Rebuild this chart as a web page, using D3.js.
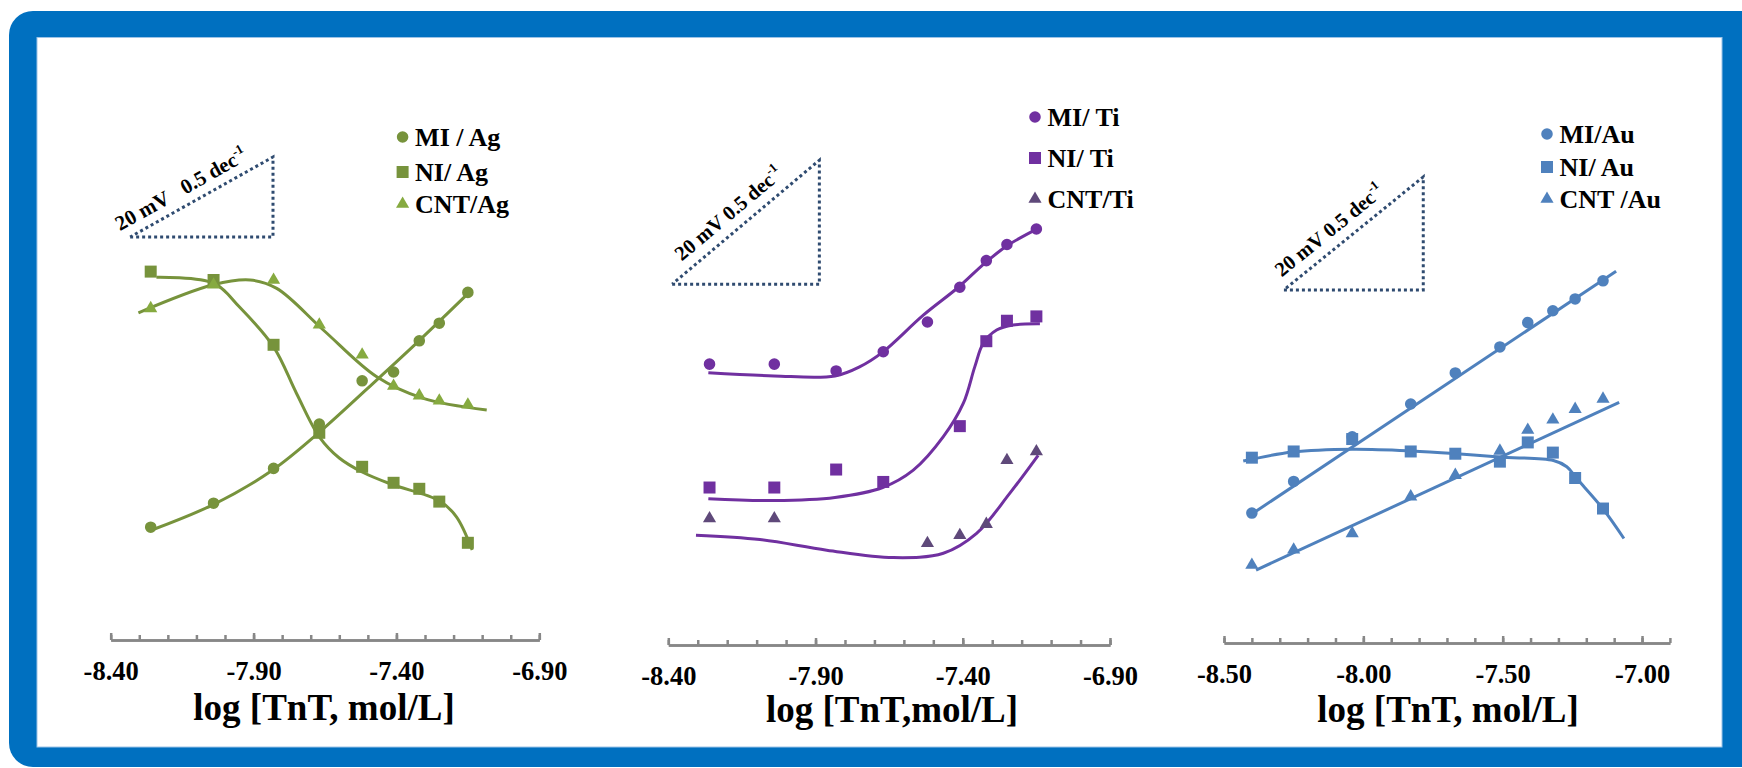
<!DOCTYPE html>
<html>
<head>
<meta charset="utf-8">
<script src="https://cdn.jsdelivr.net/npm/d3@7"></script>
<style>
  body { margin: 0; background: #ffffff; }
  svg { display: block; }
  text { font-family: "Liberation Serif", "Times New Roman", serif; font-weight: bold; fill: #000000; }
</style>
</head>
<body>
<svg id="chart"></svg>
<script>
/*--------------------------------------------------------------------------------
----- DATA (x = log [TnT, mol/L], y = potential in mV above the axis line)
--------------------------------------------------------------------------------*/

// Panel 1 : Ag electrodes
const ag_log_conc = [-8.26, -8.04, -7.83, -7.67, -7.52, -7.41, -7.32, -7.25, -7.15];
const ag_mi_mv = [28.2, 34.2, 42.9, 54.0, 64.8, 67.0, 74.8, 79.2, 86.9];
const ag_ni_mv = [92.1, 90.0, 73.8, 51.8, 43.3, 39.3, 37.8, 34.6, 24.3];
const ag_cnt_mv = [82.9, 88.8, 90.0, 78.8, 71.3, 63.5, 61.1, 59.8, 58.8];
// Fitted curves as drawn in the picture, [log, mV]
const ag_mi_fit = [[-8.256, 27.5], [-8.043, 33.8], [-7.833, 42.5], [-7.672, 51.8], [-7.457, 65.8], [-7.324, 74.6], [-7.148, 86.7]];
const ag_ni_fit = [[-8.24, 90.7], [-8.04, 89.2], [-7.95, 83.3], [-7.83, 73.3], [-7.75, 61.7], [-7.67, 50.8], [-7.60, 45.5], [-7.52, 42.0], [-7.42, 39.0], [-7.25, 34.8], [-7.19, 30.8], [-7.135, 22.5]];
const ag_cnt_fit = [[-8.303, 81.8], [-8.041, 88.8], [-7.912, 90.0], [-7.819, 87.9], [-7.656, 77.5], [-7.469, 65.8], [-7.306, 60.4], [-7.084, 57.5]];
const ag_labels = ["MI / Ag", "NI/ Ag", "CNT/Ag"];

// Panel 2 : Ti electrodes
const ti_mi_log = [-8.26, -8.04, -7.83, -7.67, -7.52, -7.41, -7.32, -7.25, -7.15];
const ti_mi_mv = [45.3, 45.3, 44.2, 47.3, 52.1, 57.7, 62.0, 64.6, 67.1];
const ti_ni_log = [-8.26, -8.04, -7.83, -7.67, -7.41, -7.32, -7.25, -7.15];
const ti_ni_mv = [25.4, 25.4, 28.3, 26.3, 35.3, 49.0, 52.3, 53.0];
const ti_cnt_log = [-8.26, -8.04, -7.52, -7.41, -7.32, -7.25, -7.15];
const ti_cnt_mv = [20.4, 20.4, 16.4, 17.7, 19.5, 29.8, 31.2];
const ti_mi_fit = [[-8.264, 43.9], [-8.041, 43.4], [-7.834, 43.4], [-7.749, 44.9], [-7.673, 47.2], [-7.534, 53.2], [-7.415, 57.7], [-7.325, 61.6], [-7.246, 64.5], [-7.144, 67.2]];
const ti_ni_fit = [[-8.264, 23.6], [-8.041, 23.3], [-7.834, 23.8], [-7.672, 25.4], [-7.568, 28.2], [-7.466, 33.6], [-7.398, 39.0], [-7.359, 44.9], [-7.330, 48.7], [-7.285, 50.8], [-7.229, 51.6], [-7.138, 51.8]];
const ti_cnt_fit = [[-8.306, 17.7], [-8.089, 17.0], [-7.862, 15.3], [-7.636, 14.1], [-7.466, 14.8], [-7.353, 18.0], [-7.240, 24.5], [-7.144, 30.6]];
const ti_labels = ["MI/ Ti", "NI/ Ti", "CNT/Ti"];

// Panel 3 : Au electrodes
const au_log_conc = [-8.40, -8.25, -8.04, -7.83, -7.67, -7.51, -7.41, -7.32, -7.24, -7.14];
const au_mi_mv = [23.0, 28.6, 36.5, 42.3, 47.8, 52.4, 56.7, 58.8, 60.9, 64.1];
const au_ni_mv = [32.8, 33.9, 36.1, 33.9, 33.5, 32.1, 35.5, 33.7, 29.2, 23.8];
const au_cnt_mv = [13.8, 16.5, 19.4, 25.9, 29.7, 34.0, 37.7, 39.5, 41.4, 43.2];
const au_mi_fit = [[-8.395, 23.0], [-7.093, 65.8]];
const au_ni_fit = [[-8.431, 32.2], [-8.254, 33.8], [-8.038, 34.3], [-7.827, 34.0], [-7.665, 33.5], [-7.512, 32.9], [-7.318, 32.3], [-7.270, 31.2], [-7.234, 29.1], [-7.141, 23.8], [-7.065, 18.5]];
const au_cnt_fit = [[-8.385, 12.9], [-7.082, 42.6]];
const au_labels = ["MI/Au", "NI/ Au", "CNT /Au"];

// Axis tick labels
const ag_ti_major_ticks = [-8.40, -7.90, -7.40, -6.90];
const au_major_ticks = [-8.50, -8.00, -7.50, -7.00];

// Slope guide: 20 mV over 0.5 decade
const slope_dx = 0.5, slope_dy = 20;

/*--------------------------------------------------------------------------------
----- LAYOUT
--------------------------------------------------------------------------------*/
const width = 1742, height = 768;
const font_family = '"Liberation Serif", "Times New Roman", serif';

const panels = [
    {
        x_domain: [-8.40, -6.90], x_range: [110.7, 539.3], axis_y: 640, px_per_mv: 4,
        major_ticks: ag_ti_major_ticks, minor_ticks: d3.range(-8.40, -6.85, 0.1),
        title: "log [TnT, mol/L]", title_x: 324, title_y: 720,
        legend_x: 402.6, legend_y: [137, 172, 204], labels: ag_labels,
        slope_origin: [-8.332, 100.75], slope_text: "20 mV\u00a0\u00a0\u00a00.5 dec", slope_along: -6, slope_offset: 10, slope_font: 21,
        series: [
            { shape: "circle", color: "#77933C", xs: ag_log_conc, ys: ag_mi_mv, fit: ag_mi_fit },
            { shape: "square", color: "#77933C", xs: ag_log_conc, ys: ag_ni_mv, fit: ag_ni_fit },
            { shape: "triangle", color: "#86AA40", xs: ag_log_conc, ys: ag_cnt_mv, fit: ag_cnt_fit }
        ],
        line_color: "#77933C"
    },
    {
        x_domain: [-8.40, -6.90], x_range: [668.3, 1110], axis_y: 645, px_per_mv: 6.2,
        major_ticks: ag_ti_major_ticks, minor_ticks: d3.range(-8.40, -6.85, 0.1),
        title: "log [TnT,mol/L]", title_x: 892, title_y: 722,
        legend_x: 1035, legend_y: [117, 158, 199], labels: ti_labels,
        slope_origin: [-8.387, 58.2], slope_text: "20 mV 0.5 dec", slope_along: 22, slope_offset: 11, slope_font: 20.5,
        series: [
            { shape: "circle", color: "#7030A0", xs: ti_mi_log, ys: ti_mi_mv, fit: ti_mi_fit },
            { shape: "square", color: "#7030A0", xs: ti_ni_log, ys: ti_ni_mv, fit: ti_ni_fit },
            { shape: "triangle", color: "#5F497A", xs: ti_cnt_log, ys: ti_cnt_mv, fit: ti_cnt_fit }
        ],
        line_color: "#7030A0"
    },
    {
        x_domain: [-8.50, -6.90], x_range: [1224, 1669.9], axis_y: 643, px_per_mv: 5.65,
        major_ticks: au_major_ticks, minor_ticks: d3.range(-8.50, -6.85, 0.1),
        title: "log [TnT, mol/L]", title_x: 1448, title_y: 722,
        legend_x: 1547, legend_y: [134, 167, 199], labels: au_labels,
        slope_origin: [-8.285, 62.5], slope_text: "20 mV 0.5 dec", slope_along: 6, slope_offset: 11, slope_font: 20.5,
        series: [
            { shape: "circle", color: "#4F81BD", xs: au_log_conc, ys: au_mi_mv, fit: au_mi_fit },
            { shape: "square", color: "#4F81BD", xs: au_log_conc, ys: au_ni_mv, fit: au_ni_fit },
            { shape: "triangle", color: "#4F81BD", xs: au_log_conc, ys: au_cnt_mv, fit: au_cnt_fit }
        ],
        line_color: "#4F81BD"
    }
];

// Marker symbols, sizes are areas in px^2
const symbol_types = { circle: d3.symbolCircle, square: d3.symbolSquare, triangle: d3.symbolTriangle };
const symbol_sizes = { circle: 105, square: 144, triangle: 75 };

/*--------------------------------------------------------------------------------
----- DRAWING
--------------------------------------------------------------------------------*/
const svg = d3.select("#chart")
    .attr("width", width)
    .attr("height", height);

// Blue rounded frame with white inner area
svg.append("rect")
    .attr("x", 9).attr("y", 11)
    .attr("width", 1770).attr("height", 756)
    .attr("rx", 24)
    .attr("fill", "#0070C0");
svg.append("rect")
    .attr("x", 37).attr("y", 37.5)
    .attr("width", 1685).attr("height", 709.5)
    .attr("fill", "#ffffff")
    .attr("stroke", "#9DC3E6")
    .attr("stroke-width", 1);

// Function to draw one marker at a pixel position
function draw_marker(group, shape, x, y, color) {
    group.append("path")
        .attr("d", d3.symbol().type(symbol_types[shape]).size(symbol_sizes[shape])())
        .attr("transform", `translate(${x},${y})`)
        .attr("fill", color);
}

// Function to draw a complete panel
function draw_panel(p) {
    const x_scale = d3.scaleLinear().domain(p.x_domain).range(p.x_range);
    const y_scale = d3.scaleLinear().domain([0, 100]).range([p.axis_y, p.axis_y - 100 * p.px_per_mv]);
    const g = svg.append("g");

    // Minor ticks (pointing up)
    const minor_axis = g.append("g")
        .attr("transform", `translate(0,${p.axis_y})`)
        .call(d3.axisBottom(x_scale).tickValues(p.minor_ticks).tickSize(-5).tickSizeOuter(0).tickFormat(""));
    // Major ticks with their labels below the line
    const major_axis = g.append("g")
        .attr("transform", `translate(0,${p.axis_y})`)
        .call(d3.axisBottom(x_scale).tickValues(p.major_ticks).tickSize(-7).tickSizeOuter(0)
            .tickPadding(21).tickFormat(d => d.toFixed(2)));
    [minor_axis, major_axis].forEach(a => {
        a.selectAll("path, line").attr("stroke", "#878787").attr("stroke-width", 2.5);
        a.selectAll("text")
            .attr("font-family", font_family)
            .attr("font-weight", "bold")
            .attr("font-size", 26.5)
            .attr("fill", "#000");
    });

    // Axis title
    g.append("text")
        .attr("x", p.title_x).attr("y", p.title_y)
        .attr("text-anchor", "middle")
        .attr("font-size", 37)
        .text(p.title);

    // Fitted curves
    const line = d3.line()
        .x(d => x_scale(d[0]))
        .y(d => y_scale(d[1]))
        .curve(d3.curveCatmullRom.alpha(0.5));
    p.series.forEach(s => {
        g.append("path")
            .datum(s.fit)
            .attr("d", line)
            .attr("fill", "none")
            .attr("stroke", p.line_color)
            .attr("stroke-width", 3);
    });

    // Data markers
    p.series.forEach(s => {
        s.xs.forEach((xv, i) => draw_marker(g, s.shape, x_scale(xv), y_scale(s.ys[i]), s.color));
    });

    // Legend
    p.series.forEach((s, i) => {
        draw_marker(g, s.shape, p.legend_x, p.legend_y[i], s.color);
        g.append("text")
            .attr("x", p.legend_x + 12.5)
            .attr("y", p.legend_y[i] + 9)
            .attr("font-size", 26)
            .text(p.labels[i]);
    });

    // Slope guide triangle (dotted)
    const [sx, sy] = p.slope_origin;
    const tri = [[sx, sy], [sx + slope_dx, sy], [sx + slope_dx, sy + slope_dy], [sx, sy]];
    g.append("path")
        .datum(tri)
        .attr("d", d3.line().x(d => x_scale(d[0])).y(d => y_scale(d[1])))
        .attr("fill", "none")
        .attr("stroke", "#2F4B70")
        .attr("stroke-width", 3)
        .attr("stroke-dasharray", "3,3");

    // Slope label along the hypotenuse
    const x0 = x_scale(sx), y0 = y_scale(sy);
    const x1 = x_scale(sx + slope_dx), y1 = y_scale(sy + slope_dy);
    const angle = Math.atan2(y1 - y0, x1 - x0) * 180 / Math.PI;
    const label = g.append("text")
        .attr("transform", `translate(${x0},${y0}) rotate(${angle})`)
        .attr("x", p.slope_along)
        .attr("y", -p.slope_offset)
        .attr("font-size", p.slope_font);
    label.append("tspan").text(p.slope_text);
    label.append("tspan").attr("font-size", 13).attr("dy", -9).text("-1");
}

panels.forEach(draw_panel);
</script>
</body>
</html>
